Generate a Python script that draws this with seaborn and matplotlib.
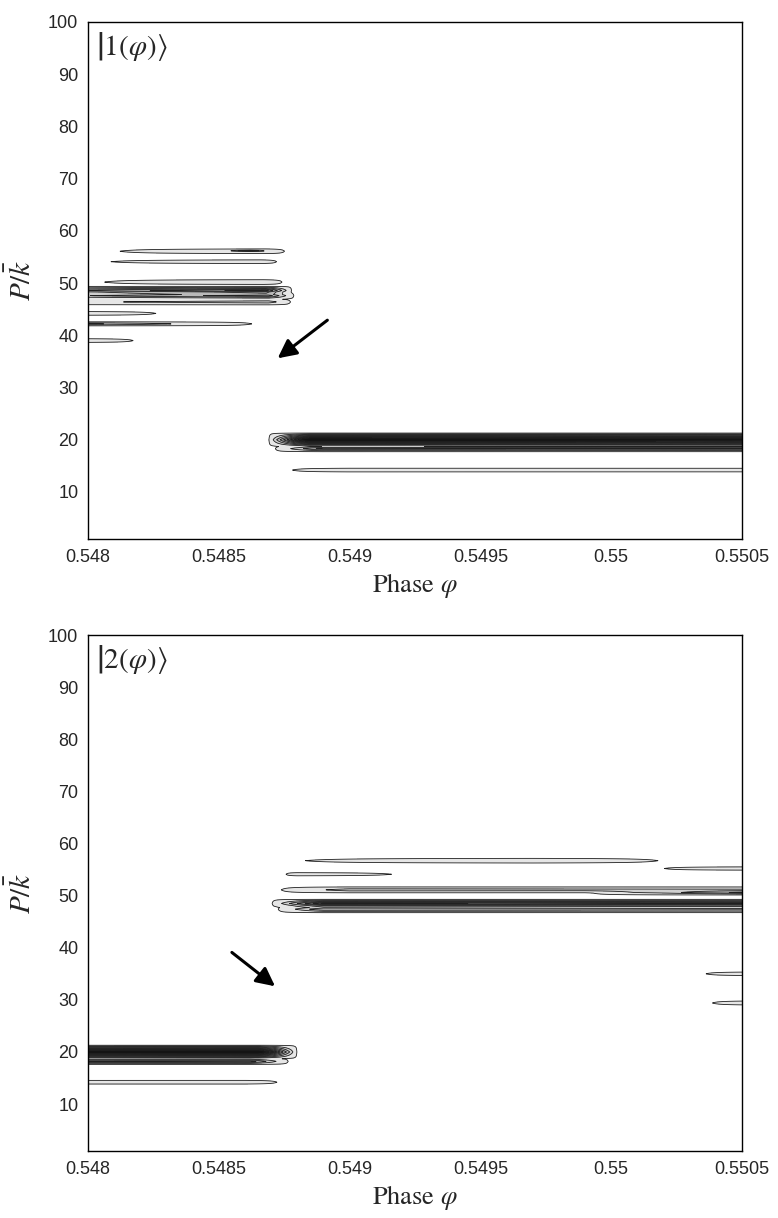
"""
plot.py
- Two contour panels of Husimi-like densities |1(phi)> and |2(phi)> versus phase.
"""
import numpy as np
import matplotlib
matplotlib.use("Agg")
import matplotlib.pyplot as plt
import seaborn as sns

# axis ranges / ticks
phase_lim = (0.548, 0.5505)
p_lim = (1, 100)
phase_ticks = [0.548, 0.5485, 0.549, 0.5495, 0.55, 0.5505]
phase_ticklabels = ["0.548", "0.5485", "0.549", "0.5495", "0.55", "0.5505"]
p_ticks = [10, 20, 30, 40, 50, 60, 70, 80, 90, 100]

# bands: phase where each starts, is strongest, fades out;
# centre P, half width in P, peak height
top_start = [0.54805, 0.54853, 0.54800, 0.54799, 0.547, 0.547, 0.547, 0.547, 0.547, 0.547, 0.54869, 0.54871, 0.54875]
top_peak_at = [0.54868, 0.54862, 0.54866, 0.54867, 0.54868, 0.54869, 0.54869, 0.548, 0.548, 0.548, 0.54885, 0.54890, 0.54900]
top_end = [0.54876, 0.54868, 0.54873, 0.54875, 0.54878, 0.54879, 0.54878, 0.54830, 0.54866, 0.54820, 0.56, 0.56, 0.56]
top_p = [56.1, 56.2, 54.1, 50.2, 48.6, 47.6, 46.4, 44.2, 42.2, 39.0, 20.0, 18.3, 14.2]
top_width = [0.5, 0.15, 0.4, 0.5, 0.8, 0.7, 0.6, 0.4, 0.4, 0.4, 1.3, 0.6, 0.4]
top_height = [0.18, 0.5, 0.15, 0.19, 0.9, 0.6, 0.3, 0.15, 0.4, 0.15, 1.8, 0.6, 0.16]

bot_start = [0.54872, 0.54875, 0.55016, 0.54872, 0.5499, 0.54870, 0.54872, 0.55033, 0.55036, 0.54, 0.54, 0.54]
bot_peak_at = [0.54970, 0.54880, 0.55050, 0.54900, 0.55050, 0.54890, 0.54890, 0.55060, 0.55060, 0.54865, 0.54862, 0.54860]
bot_end = [0.55024, 0.54922, 0.56, 0.56, 0.56, 0.56, 0.56, 0.56, 0.56, 0.54880, 0.54877, 0.54874]
bot_p = [56.7, 54.1, 55.2, 51.1, 50.6, 48.5, 47.4, 35.0, 29.4, 20.0, 18.2, 14.2]
bot_width = [0.5, 0.35, 0.35, 0.6, 0.5, 0.8, 0.7, 0.4, 0.45, 1.3, 0.6, 0.4]
bot_height = [0.18, 0.14, 0.16, 0.3, 0.5, 1.0, 0.5, 0.17, 0.18, 1.8, 0.6, 0.16]

levels = [0.02, 0.2, 0.35, 0.5, 0.65, 0.8, 0.95, 1.1, 1.3, 5.0]


def build_field(phi, p, start, peak_at, end, pc, width, height):
    # tent profile across P so the contours close in sharp spindle tips
    z = np.zeros((len(p), len(phi)))
    for a, m, b, c, w, h in zip(start, peak_at, end, pc, width, height):
        t = np.interp(phi, [a, m, b], [0.0, 1.0, 0.0])
        across = np.clip(1 - np.abs(p - c) / w, 0, None)
        z += h * across[:, None] * t[None, :]
    return z


def draw_panel(ax, field, phi, p, label):
    cols = sns.blend_palette(["#e6e6e6", "#8c8c8c", "#141414"], len(levels) - 1)
    ax.contourf(phi, p, field, levels=levels, colors=cols)
    ax.contour(phi, p, field, levels=levels[:-1], colors="#202020", linewidths=0.6)
    ax.set_xlim(*phase_lim)
    ax.set_ylim(*p_lim)
    ax.set_xticks(phase_ticks)
    ax.set_xticklabels(phase_ticklabels)
    ax.set_yticks(p_ticks)
    ax.tick_params(direction="in", length=3, labelsize=13, pad=7)
    ax.set_xlabel(r"Phase $\varphi$", fontsize=19, family="STIXGeneral", labelpad=4)
    ax.set_ylabel(r"$P/\bar{k}$", fontsize=21, labelpad=8)
    ax.text(0.012, 0.985, label, transform=ax.transAxes, fontsize=21, va="top", ha="left")
    for s in ax.spines.values():
        s.set_color("k")
        s.set_linewidth(1.0)


def main():
    sns.set_style("white")
    plt.rcParams["font.family"] = ["Liberation Sans", "DejaVu Sans"]
    plt.rcParams["mathtext.fontset"] = "stix"

    phi = np.linspace(phase_lim[0], phase_lim[1], 900)
    p = np.linspace(0, 101, 2400)

    fig = plt.figure(figsize=(7.78, 12.18), dpi=100)
    W, H = 778, 1218
    ax1 = fig.add_axes([88 / W, 1 - 539 / H, 654 / W, 517 / H])
    ax2 = fig.add_axes([88 / W, 1 - 1151 / H, 654 / W, 516 / H])

    z1 = build_field(phi, p, top_start, top_peak_at, top_end, top_p, top_width, top_height)
    z2 = build_field(phi, p, bot_start, bot_peak_at, bot_end, bot_p, bot_width, bot_height)

    draw_panel(ax1, z1, phi, p, r"$\left|1(\varphi)\right\rangle$")
    draw_panel(ax2, z2, phi, p, r"$\left|2(\varphi)\right\rangle$")

    arrow = dict(arrowstyle="-|>", color="k", lw=2.2, mutation_scale=28, shrinkA=0, shrinkB=0)
    ax1.annotate("", xy=(0.548725, 35.6), xytext=(0.548915, 42.9), arrowprops=arrow)
    ax2.annotate("", xy=(0.548715, 32.6), xytext=(0.54855, 39.1), arrowprops=arrow)

    fig.savefig("out.png", dpi=100)


if __name__ == "__main__":
    main()
